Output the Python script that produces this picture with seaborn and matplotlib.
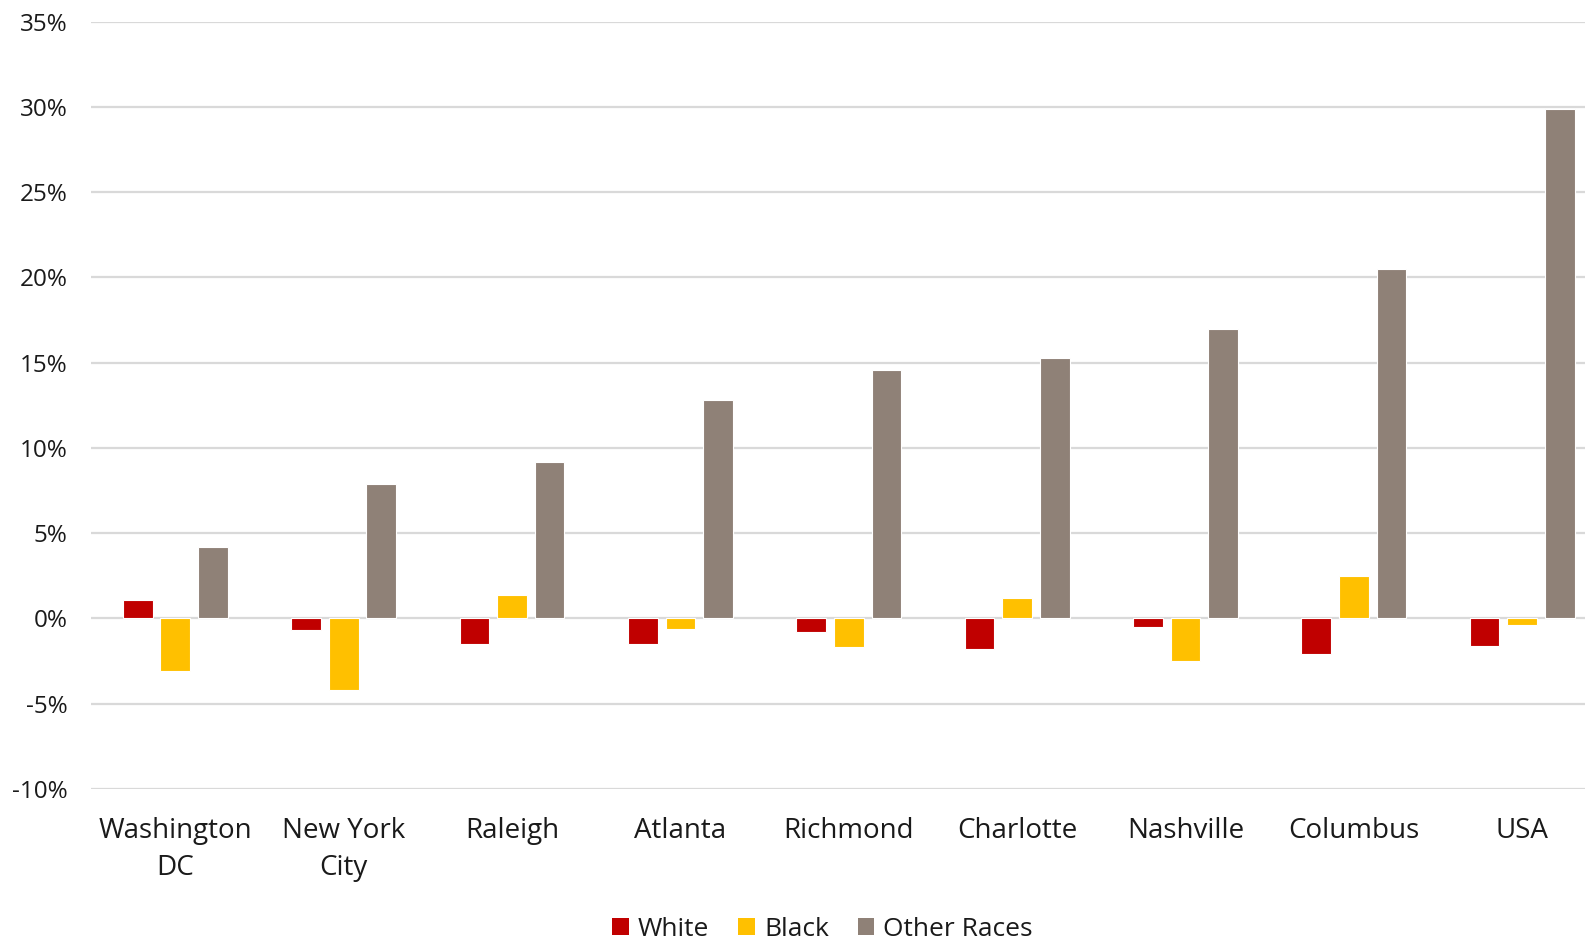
import matplotlib
matplotlib.use("Agg")
import matplotlib.pyplot as plt
import seaborn as sns
import pandas as pd
from matplotlib.patches import Patch

cities = ["Washington\nDC", "New York\nCity", "Raleigh", "Atlanta", "Richmond",
          "Charlotte", "Nashville", "Columbus", "USA"]
white = [1.1, -0.7, -1.5, -1.5, -0.8, -1.8, -0.5, -2.1, -1.6]
black = [-3.1, -4.2, 1.4, -0.6, -1.7, 1.2, -2.5, 2.5, -0.4]
other = [4.2, 7.9, 9.2, 12.8, 14.6, 15.3, 17.0, 20.5, 29.9]
groups = ["White", "Black", "Other Races"]
colors = ["#C00000", "#FFC000", "#8F8177"]
yticks = [-10, -5, 0, 5, 10, 15, 20, 25, 30, 35]

df = pd.DataFrame({
    "city": cities * 3,
    "group": sum([[g] * len(cities) for g in groups], []),
    "value": white + black + other,
})

sns.set_theme(style="white")
plt.rcParams["font.family"] = ["Open Sans", "DejaVu Sans"]

fig = plt.figure(figsize=(15.85, 9.41), dpi=100)
# the plotting area runs slightly past the right edge of the canvas
ax = fig.add_axes([0.0575, 0.1615, 0.956, 0.8155])

sns.barplot(data=df, x="city", y="value", hue="group", order=cities,
            hue_order=groups, palette=colors, saturation=1, width=0.67,
            gap=0.21, edgecolor="white", linewidth=0.8, errorbar=None,
            legend=False, zorder=3, ax=ax)

ax.set_ylim(-10, 35)
ax.set_yticks(yticks)
ax.set_yticklabels([f"{t}%" for t in yticks])
ax.set_xlim(-0.5, len(cities) - 0.5)
ax.yaxis.grid(True, color="#D9D9D9", linewidth=1.6, zorder=0)
ax.set_axisbelow(True)
for s in ax.spines.values():
    s.set_visible(False)
ax.set_xlabel("")
ax.set_ylabel("")
ax.tick_params(axis="y", length=0, pad=17, labelsize=17.5, labelcolor="#1a1a1a")
ax.tick_params(axis="x", length=0, pad=20, labelsize=20, labelcolor="#1a1a1a")
for lbl in ax.get_xticklabels():
    lbl.set_linespacing(1.45)

handles = [Patch(facecolor=c, edgecolor="none") for c in colors]
fig.legend(handles, groups, loc="center", bbox_to_anchor=(0.519, 0.012),
           ncol=3, frameon=False, fontsize=19, handlelength=0.62,
           handleheight=0.62, handletextpad=0.35, columnspacing=1.1,
           labelcolor="#1a1a1a")

fig.savefig("out.png", dpi=100)
